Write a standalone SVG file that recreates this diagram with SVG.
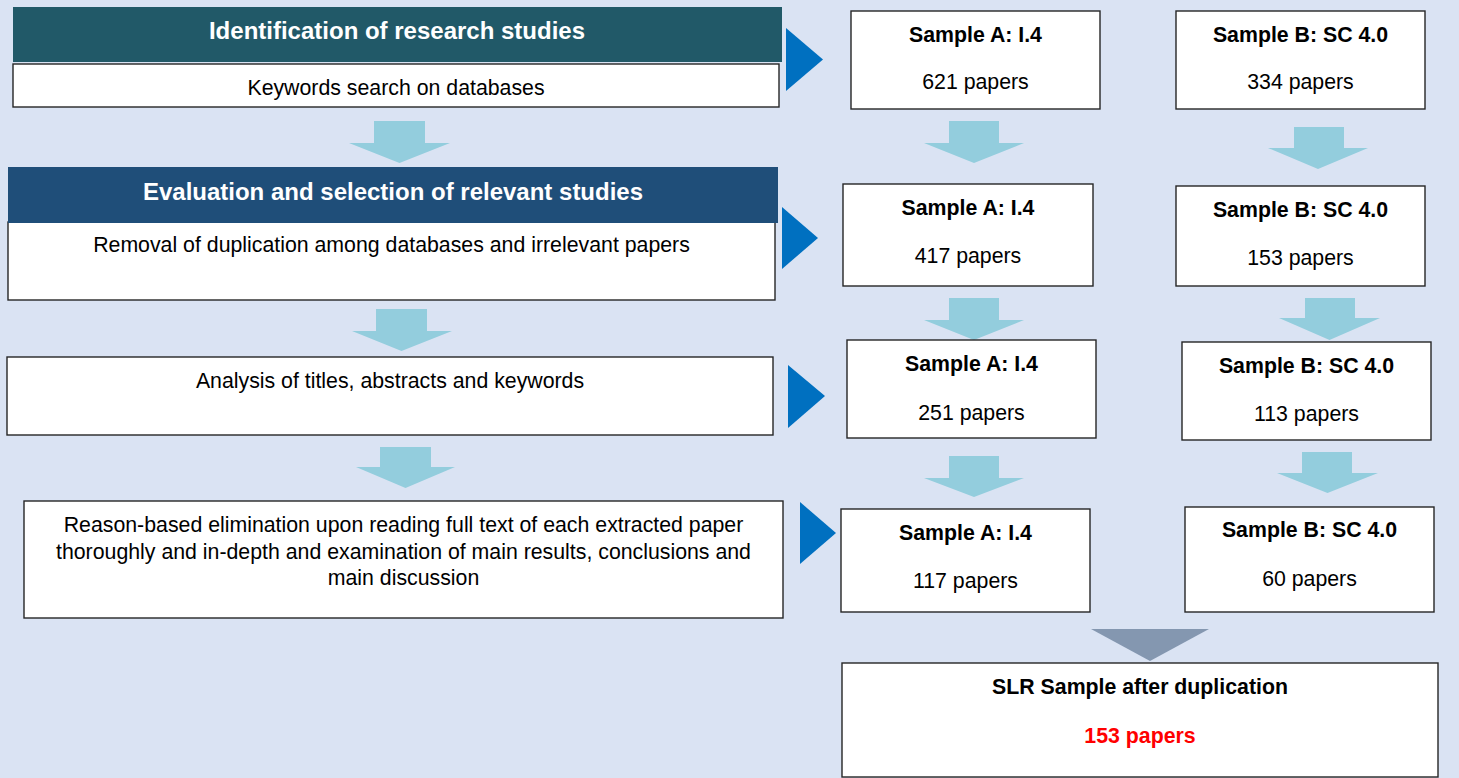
<svg xmlns="http://www.w3.org/2000/svg" width="1459" height="778" viewBox="0 0 1459 778">
  <defs>
    <style>
      .box { fill: #ffffff; stroke: #262626; stroke-width: 1.4; }
      .t { font-family: "Liberation Sans", Arial, sans-serif; font-size: 21.3px; fill: #000000; text-anchor: middle; }
      .b { font-weight: bold; }
      .banner-t { font-family: "Liberation Sans", Arial, sans-serif; font-size: 24px; font-weight: bold; fill: #ffffff; text-anchor: middle; }
      .down { fill: #93CDDD; }
      .right { fill: #0070C0; }
      .merge { fill: #8497B0; }
    </style>
  </defs>

  <!-- page background -->
  <rect x="0" y="0" width="1459" height="778" fill="#DAE3F3"/>

  <!-- connectors: down arrows, right pointers, merge arrow -->
  <g id="connectors">
    <!-- left column block arrows -->
    <polygon class="down" points="374,121 425,121 425,143 450,143 399.5,163 349,143 374,143"/>
    <polygon class="down" points="376,309 427,309 427,331 452,331 401.5,351 352,331 376,331"/>
    <polygon class="down" points="380,447 431,447 431,467 455,467 405.5,488 356,467 380,467"/>

    <!-- step pointers into sample columns -->
    <polygon class="right" points="786,28 823,59.5 786,91"/>
    <polygon class="right" points="782,207 818,238 782,269"/>
    <polygon class="right" points="788,365 825,396 788,428"/>
    <polygon class="right" points="800,502 836,533 800,564"/>

    <!-- sample A column arrows -->
    <polygon class="down" points="949,121 999,121 999,143 1024,143 974,163 924,143 949,143"/>
    <polygon class="down" points="949,298 999,298 999,320 1024,320 974,340 924,320 949,320"/>
    <polygon class="down" points="949,456 999,456 999,478 1024,478 974,497 924,478 949,478"/>

    <!-- sample B column arrows -->
    <polygon class="down" points="1294,127 1344,127 1344,148 1368,148 1318,169 1268,148 1294,148"/>
    <polygon class="down" points="1305,298 1355,298 1355,318 1380,318 1329.5,340 1279,318 1305,318"/>
    <polygon class="down" points="1302,452 1352,452 1352,473 1378,473 1327.5,493 1277,473 1302,473"/>

    <!-- merge into final sample -->
    <polygon class="merge" points="1091,629 1209,629 1150,661"/>
  </g>

  <!-- step 1: identification -->
  <g id="step-identification">
    <rect x="13" y="7" width="769" height="55" fill="#215968"/>
    <text class="banner-t" x="397" y="39">Identification of research studies</text>
    <rect class="box" x="13" y="64" width="766" height="43"/>
    <text class="t" x="396" y="95">Keywords search on databases</text>
  </g>

  <!-- step 2: evaluation -->
  <g id="step-evaluation">
    <rect class="box" x="8" y="222" width="767" height="78"/>
    <rect x="8" y="167" width="770" height="56" fill="#1F4E79"/>
    <text class="banner-t" x="393" y="200">Evaluation and selection of relevant studies</text>
    <text class="t" x="391.5" y="252">Removal of duplication among databases and irrelevant papers</text>
  </g>

  <!-- step 3: screening -->
  <g id="step-analysis">
    <rect class="box" x="7" y="357" width="766" height="78"/>
    <text class="t" x="390" y="388">Analysis of titles, abstracts and keywords</text>
  </g>

  <!-- step 4: full-text reading -->
  <g id="step-fulltext">
    <rect class="box" x="24" y="501" width="759" height="117"/>
    <text class="t" x="403.5" y="532">Reason-based elimination upon reading full text of each extracted paper</text>
    <text class="t" x="403.5" y="559">thoroughly and in-depth and examination of main results, conclusions and</text>
    <text class="t" x="403.5" y="585">main discussion</text>
  </g>

  <!-- sample A counts -->
  <g id="sample-a-1">
    <rect class="box" x="851" y="11" width="249" height="98"/>
    <text class="t b" x="975.5" y="42">Sample A: I.4</text>
    <text class="t" x="975.5" y="89">621 papers</text>
  </g>
  <g id="sample-a-2">
    <rect class="box" x="843" y="184" width="250" height="102"/>
    <text class="t b" x="968" y="215">Sample A: I.4</text>
    <text class="t" x="968" y="263">417 papers</text>
  </g>
  <g id="sample-a-3">
    <rect class="box" x="847" y="340" width="249" height="98"/>
    <text class="t b" x="971.5" y="371">Sample A: I.4</text>
    <text class="t" x="971.5" y="420">251 papers</text>
  </g>
  <g id="sample-a-4">
    <rect class="box" x="841" y="509" width="249" height="103"/>
    <text class="t b" x="965.5" y="540">Sample A: I.4</text>
    <text class="t" x="965.5" y="588">117 papers</text>
  </g>

  <!-- sample B counts -->
  <g id="sample-b-1">
    <rect class="box" x="1176" y="11" width="249" height="98"/>
    <text class="t b" x="1300.5" y="42">Sample B: SC 4.0</text>
    <text class="t" x="1300.5" y="89">334 papers</text>
  </g>
  <g id="sample-b-2">
    <rect class="box" x="1176" y="186" width="249" height="100"/>
    <text class="t b" x="1300.5" y="217">Sample B: SC 4.0</text>
    <text class="t" x="1300.5" y="265">153 papers</text>
  </g>
  <g id="sample-b-3">
    <rect class="box" x="1182" y="342" width="249" height="98"/>
    <text class="t b" x="1306.5" y="373">Sample B: SC 4.0</text>
    <text class="t" x="1306.5" y="421">113 papers</text>
  </g>
  <g id="sample-b-4">
    <rect class="box" x="1185" y="507" width="249" height="105"/>
    <text class="t b" x="1309.5" y="537">Sample B: SC 4.0</text>
    <text class="t" x="1309.5" y="586">60 papers</text>
  </g>

  <!-- final merged sample -->
  <g id="slr-sample">
    <rect class="box" x="842" y="663" width="596" height="114"/>
    <text class="t b" x="1140" y="694">SLR Sample after duplication</text>
    <text class="t b" x="1140" y="743" style="fill:#FF0000">153 papers</text>
  </g>
</svg>
